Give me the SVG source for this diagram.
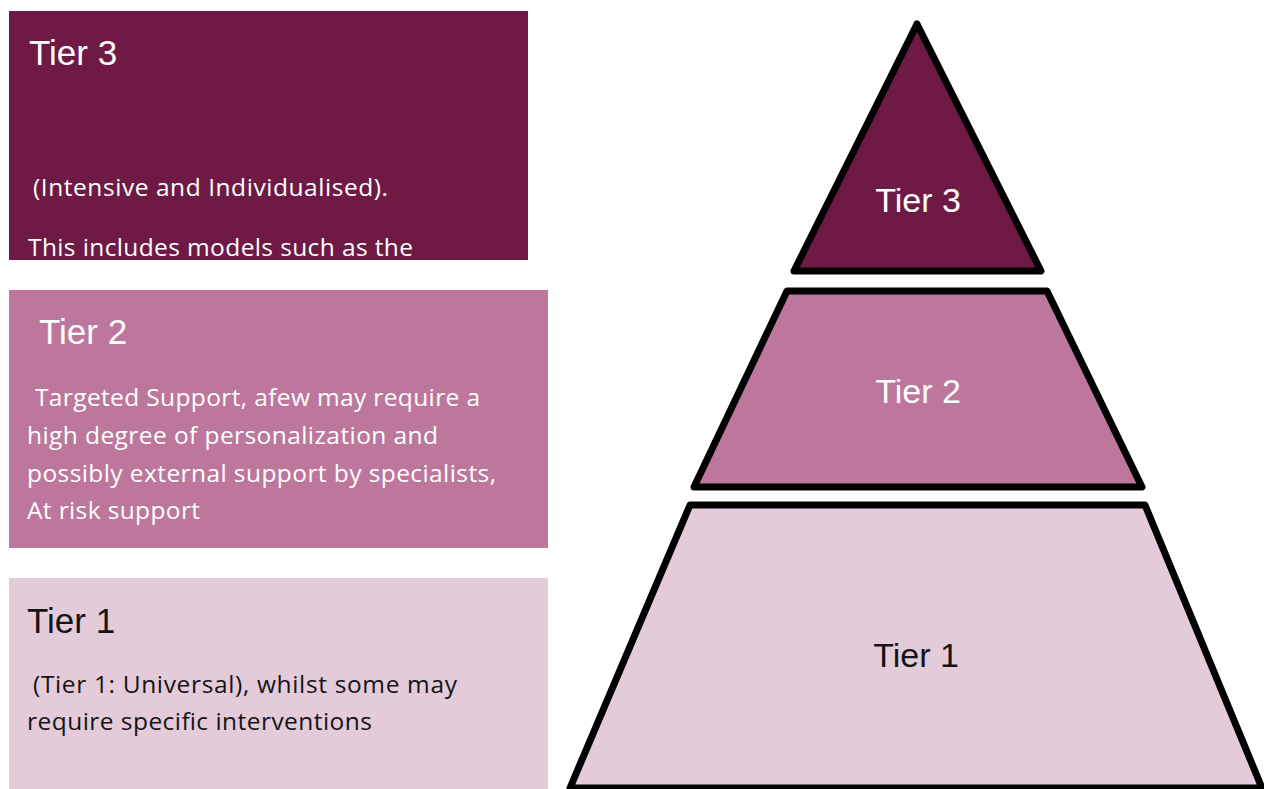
<svg xmlns="http://www.w3.org/2000/svg" width="1264" height="789" viewBox="0 0 1264 789">
<style>
.h{font-family:"Liberation Sans",Arial,sans-serif;font-size:35px}
.b{font-family:"Open Sans","Noto Sans",sans-serif;font-size:24.5px}
.p{font-family:"Liberation Sans",Arial,sans-serif;font-size:34px;text-anchor:middle}
.w{fill:#ffffff}
.k{fill:#141414}
.tier{stroke:#000;stroke-width:7;stroke-linejoin:round}
</style>
<defs>
<clipPath id="c3"><rect x="9" y="11" width="519" height="249"/></clipPath>
</defs>
<rect width="1264" height="789" fill="#ffffff"/>
<g id="box3">
<rect x="9" y="11" width="519" height="249" fill="#6f1a44"/>
<g clip-path="url(#c3)">
<text class="h w" x="29" y="65">Tier 3</text>
<text class="b w" x="33" y="196" textLength="355">(Intensive and Individualised).</text>
<text class="b w" x="28" y="256" textLength="385">This includes models such as the</text>
</g>
</g>
<g id="box2">
<rect x="9" y="290" width="539" height="258" fill="#bd779d"/>
<text class="h w" x="39" y="344">Tier 2</text>
<text class="b w" x="35" y="406" textLength="445">Targeted Support, afew may require a</text>
<text class="b w" x="27" y="444" textLength="411">high degree of personalization and</text>
<text class="b w" x="27" y="482" textLength="469">possibly external support by specialists,</text>
<text class="b w" x="27" y="519" textLength="173">At risk support</text>
</g>
<g id="box1">
<rect x="9" y="578" width="539" height="211" fill="#e4cbda"/>
<text class="h k" x="27" y="633">Tier 1</text>
<text class="b k" x="33" y="693" textLength="424">(Tier 1: Universal), whilst some may</text>
<text class="b k" x="27" y="730" textLength="345">require specific interventions</text>
</g>
<g id="pyr3">
<polygon class="tier" points="917,24 1041,271 794,271" fill="#6f1a44"/>
<text class="p w" x="918" y="212">Tier 3</text>
</g>
<g id="pyr2">
<polygon class="tier" points="787,291 1047,291 1142,487 694,487" fill="#bd779d"/>
<text class="p w" x="918" y="403">Tier 2</text>
</g>
<g id="pyr1">
<polygon class="tier" points="690,505 1145,505 1262,788 570,788" fill="#e4cbda"/>
<text class="p k" x="916" y="667">Tier 1</text>
</g>
<g id="connectors"/>
</svg>
